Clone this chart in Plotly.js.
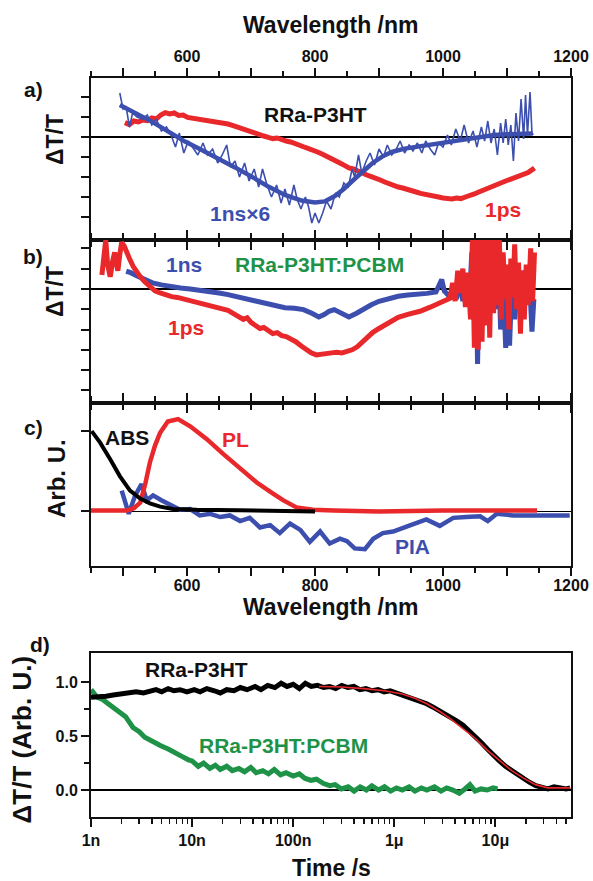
<!DOCTYPE html>
<html><head><meta charset="utf-8">
<script src="https://cdn.plot.ly/plotly-3.0.1.min.js"></script>
<style>body{margin:0;background:#fff}#g{width:593px;height:881px}</style>
</head><body><div id="g"></div>
<script>
// ---- panel a (RRa-P3HT) ----
const aRedX = [503,510,517,524,531,538,545,552,559,566,573,580,587,594,601,608,615,622,629,636,643,650,657,664,671,678,685,692,699,706,713,720,727,734,741,748,755,762,769,776,783,790,797,804,811,818,825,832,839,846,853,860,867,874,881,888,895,902,909,916,923,930,937,944,951,958,965,972,979,986,993,1000,1007,1014,1021,1028,1035,1042,1049,1056,1063,1070,1077,1084,1091,1098,1105,1112,1119,1126,1133,1140,1143];
const aRedY = [0.72,0.62,0.8,0.75,0.85,0.82,0.95,0.9,1.1,1.22,1.15,1.2,1.08,1.1,0.98,0.95,0.9,0.88,0.85,0.82,0.8,0.75,0.72,0.65,0.58,0.5,0.42,0.33,0.25,0.15,0.1,0.05,-0.02,-0.08,-0.05,-0.15,-0.2,-0.25,-0.35,-0.42,-0.5,-0.58,-0.7,-0.75,-0.85,-0.95,-1.1,-1.2,-1.3,-1.42,-1.55,-1.6,-1.72,-1.8,-1.9,-1.98,-2.1,-2.15,-2.25,-2.35,-2.4,-2.5,-2.55,-2.6,-2.7,-2.75,-2.82,-2.88,-2.92,-2.98,-3.0,-3.05,-3.08,-3.1,-3.05,-3.08,-3.0,-2.95,-2.85,-2.75,-2.65,-2.55,-2.45,-2.35,-2.28,-2.2,-2.12,-2.05,-1.95,-1.88,-1.78,-1.62,-1.55];
const aBlueNoisyX = [495,500,505,510,515,522,530,538,545,552,560,568,575,582,588,595,602,610,617,625,632,640,648,655,662,668,675,682,690,697,705,712,718,725,732,740,747,753,760,767,772,778,785,790,795,800,806,812,818,825,832,838,845,852,858,862,868,873,880,886,893,900,907,913,920,927,933,940,947,953,960,967,973,980,987,993,1000,1007,1013,1020,1027,1033,1040,1047,1053,1060,1065,1070,1075,1080,1085,1090,1094,1098,1102,1106,1110,1114,1118,1122,1126,1129,1132,1136,1139,1141];
const aBlueNoisyY = [2.2,1.4,1.5,0.5,1.2,1.0,0.9,1.1,0.6,0.9,0.3,0.5,0.1,-0.5,0.2,-0.8,-0.2,-0.6,-0.9,-0.3,-0.9,-0.6,-1.3,-0.9,-0.4,-1.5,-1.2,-2.0,-1.3,-2.2,-1.6,-2.5,-1.6,-2.4,-3.0,-2.4,-3.3,-2.6,-3.4,-2.4,-3.1,-3.6,-3.0,-3.5,-4.3,-3.8,-4.3,-3.8,-3.2,-3.6,-2.8,-3.0,-2.3,-2.5,-1.6,-2.0,-0.9,-1.8,-1.2,-0.8,-1.4,-0.6,-1.0,-0.4,-0.9,-0.6,-0.2,-0.8,-0.4,-0.7,-0.3,-0.8,-0.2,-0.6,-0.9,-0.3,-0.5,0.1,-0.4,0.4,-0.2,0.6,-0.3,0.3,-0.5,0.5,-0.2,0.8,-0.3,0.4,-0.9,0.7,-0.3,0.9,-0.4,0.6,-1.2,1.2,-0.2,1.9,-0.1,2.1,0.1,2.25,0.2,0.1];
const aBlueSmoothX = [495,519,545,571,597,623,649,675,701,727,753,779,800,815,831,845,860,875,890,905,920,940,960,980,1000,1020,1040,1060,1080,1100,1120,1140];
const aBlueSmoothY = [1.6,1.22,0.77,0.27,-0.23,-0.65,-1.07,-1.52,-1.98,-2.48,-2.9,-3.18,-3.27,-3.22,-2.95,-2.6,-2.15,-1.7,-1.3,-0.98,-0.75,-0.58,-0.48,-0.4,-0.3,-0.18,-0.06,0.03,0.1,0.14,0.16,0.17];

// ---- panel b (RRa-P3HT:PCBM) ----
const bBlueX = [505,512,523,535,546,560,576,590,605,620,635,650,664,680,694,708,723,738,753,768,782,795,806,815,822,830,840,853,865,877,888,900,915,930,945,959,975,989,995,998,1002,1008,1011,1016,1021,1026,1031,1036,1041,1045,1048,1051,1054,1057,1060,1063,1067,1070,1074,1078,1082,1086,1090,1094,1098,1101,1104,1108,1112,1116,1120,1125,1130,1135,1139,1142];
const bBlueY = [0.87,0.8,0.62,0.45,0.3,0.2,0.1,0.05,0.0,-0.05,-0.11,-0.2,-0.28,-0.4,-0.52,-0.6,-0.69,-0.8,-0.93,-0.95,-1.02,-1.2,-1.38,-1.25,-1.1,-1.02,-1.15,-1.38,-1.2,-0.95,-0.78,-0.61,-0.48,-0.36,-0.3,-0.28,-0.22,-0.15,0.2,0.46,-0.1,-0.35,-0.4,0.2,-0.5,0.4,-0.6,0.7,-0.8,1.8,-1.5,2.2,-3.7,1.5,-2.5,2.0,-1.0,1.0,-0.5,2.0,-1.0,2.5,-2.0,0.5,-2.9,-0.5,-2.8,0.8,-1.5,0.2,-1.0,0.9,-0.6,0.6,-2.1,-0.5];
const bRedX = [467,470,473,476,480,484,487,490,492,495,498,502,506,510,516,521,527,534,542,550,558,566,576,585,595,605,615,625,635,645,655,664,672,680,688,694,700,707,714,720,727,734,741,748,755,762,770,778,786,794,802,810,818,826,834,842,850,858,866,874,882,890,900,915,930,945,964,980,995,1003,1011,1015,1019,1023,1027,1031,1035,1039,1043,1046,1049,1052,1055,1058,1061,1064,1067,1070,1073,1076,1079,1082,1085,1088,1091,1094,1097,1100,1103,1106,1109,1112,1115,1118,1121,1124,1127,1130,1133,1137,1140,1143];
const bRedY = [0.69,1.6,2.4,1.2,0.6,1.4,1.8,1.2,0.9,1.7,2.3,2.1,1.75,1.5,1.1,0.85,0.6,0.35,0.11,-0.1,-0.2,-0.3,-0.38,-0.42,-0.5,-0.55,-0.6,-0.72,-0.8,-0.88,-0.95,-1.05,-1.2,-1.35,-1.5,-1.42,-1.65,-1.8,-1.95,-1.9,-2.05,-2.2,-2.15,-2.3,-2.35,-2.45,-2.6,-2.8,-3.0,-3.15,-3.25,-3.2,-3.15,-3.15,-3.12,-3.15,-3.08,-3.0,-2.85,-2.6,-2.35,-2.15,-1.95,-1.65,-1.4,-1.25,-1.1,-0.9,-0.69,-0.58,-0.46,0.3,-0.6,0.9,-0.2,1.0,-0.9,0.8,-1.5,2.5,-2.9,2.5,-3.0,2.5,-2.6,2.5,-1.8,2.5,-2.4,2.5,-1.2,2.5,-0.8,2.5,-1.5,1.8,-0.5,1.2,-2.0,1.5,-0.4,2.2,-1.0,1.3,-2.2,0.9,-1.5,1.2,-0.8,2.0,-0.6,1.8];

// ---- panel c (ABS, PL, PIA) ----
const cAbsX = [451,464,480,495,511,527,542,558,578,615,680,745,800];
const cAbsY = [1.0,0.86,0.65,0.44,0.26,0.16,0.1,0.06,0.03,0.02,0.015,0.01,0.0];
const cPlX = [450,480,506,517,527,535,542,550,558,570,586,605,631,656,683,709,735,750,771,797,830,900,1000,1100,1147];
const cPlY = [0.01,0.01,0.01,0.04,0.11,0.35,0.61,0.82,0.98,1.12,1.15,1.06,0.9,0.72,0.53,0.36,0.22,0.14,0.05,0.02,0.01,0.0,0.01,0.01,0.01];
const cPiaX = [498,509,519,529,537,547,560,573,589,605,620,636,652,667,683,698,714,730,745,761,777,792,808,823,839,850,862,878,891,906,922,943,964,974,995,1016,1036,1058,1070,1084,1110,1136,1162,1198];
const cPiaY = [0.26,-0.03,0.2,0.34,0.14,0.2,0.14,0.08,0.02,0.03,-0.05,-0.03,-0.07,-0.05,-0.12,-0.08,-0.2,-0.17,-0.27,-0.15,-0.23,-0.38,-0.25,-0.4,-0.34,-0.37,-0.46,-0.47,-0.34,-0.27,-0.25,-0.19,-0.13,-0.1,-0.18,-0.08,-0.07,-0.06,-0.12,-0.03,-0.05,-0.05,-0.06,-0.05];

// ---- panel d (kinetics, time in ns) ----
const dBlackT = [1.0,1.17,1.41,1.66,2.0,2.4,2.8,3.3,3.8,4.4,5.0,5.8,6.6,7.6,8.9,10.5,12,14,16.6,19,22,26,30,35,42,48,56,66,76,87,100,115,132,151,174,200,229,263,302,347,398,457,525,603,692,794,912,1047,1202,1380,1585,1820,2089,2399,2754,3162,3631,4169,4786,5495,6310,7244,8318,9550,10965,12589,14454,16596,19055,21878,25119,28840,33113,38019,43652,50119,54954];
const dBlackV = [0.86,0.86,0.87,0.88,0.89,0.9,0.91,0.9,0.92,0.93,0.91,0.94,0.92,0.93,0.91,0.93,0.91,0.94,0.92,0.9,0.93,0.92,0.95,0.93,0.96,0.93,0.97,0.95,0.99,0.96,0.98,0.94,0.99,0.96,0.97,0.95,0.96,0.94,0.97,0.95,0.96,0.93,0.94,0.92,0.93,0.91,0.92,0.9,0.88,0.86,0.85,0.82,0.8,0.77,0.74,0.71,0.68,0.64,0.6,0.55,0.5,0.44,0.38,0.32,0.27,0.22,0.18,0.14,0.1,0.07,0.04,0.02,0.01,0.03,0.02,0.01,0.02];
const dFitT = [180,300,500,800,1200,1600,2100,2800,3600,4800,6300,8300,11000,14500,19000,25000,33000,43000,55000];
const dFitV = [0.96,0.955,0.94,0.92,0.89,0.85,0.8,0.73,0.66,0.57,0.48,0.37,0.27,0.18,0.11,0.05,0.02,0.02,0.02];
const dGreenT = [1,1.15,1.3,1.5,1.7,1.9,2.2,2.6,3.0,3.4,4.0,4.9,5.8,6.8,8.0,9.2,10,11.5,13,15,17,19,22,25,29,33,38,43,50,57,65,75,85,100,115,130,150,170,200,230,260,300,350,400,460,530,600,700,800,920,1050,1200,1400,1600,1850,2100,2500,2900,3300,3800,4400,5000,5600,6300,7200,8300,9500,10500];
const dGreenV = [0.93,0.86,0.84,0.8,0.76,0.73,0.68,0.58,0.54,0.49,0.45,0.41,0.38,0.35,0.31,0.28,0.27,0.22,0.25,0.2,0.23,0.19,0.22,0.18,0.2,0.17,0.21,0.16,0.18,0.15,0.19,0.14,0.16,0.13,0.15,0.11,0.09,0.1,0.06,0.04,0.05,0.01,0.03,-0.01,0.03,0.0,0.04,0.0,0.03,-0.01,0.02,0.0,0.03,-0.01,0.02,0.0,0.03,-0.01,0.02,0.0,-0.03,0.01,0.05,-0.01,0.01,0.0,0.02,0.01];

// ---- tick labels ----
const wlTickVals = [500,600,700,800,900,1000,1100,1200];
const wlTickText = ['','600','','800','','1000','','1200'];
const tTickVals = [1,10,100,1000,10000];
const tTickText = ['1n','10n','100n','1μ','10μ'];
const dYTickVals = [0,0.5,1.0];
const dYTickText = ['0.0','0.5','1.0'];

const RED='#e8282b', BLUE='#3c4fae', GREEN='#1e9348', BLACK='#000';
const F = 'Liberation Sans, Arial, sans-serif';

function line(x,y,xa,ya,color,w){return {x:x,y:y,xaxis:xa,yaxis:ya,type:'scatter',mode:'lines',line:{color:color,width:w},hoverinfo:'skip'};}

const data = [
  line(aRedX,aRedY,'x','y',RED,5),
  line(aBlueNoisyX,aBlueNoisyY,'x','y',BLUE,1.6),
  line(aBlueSmoothX,aBlueSmoothY,'x','y',BLUE,4.5),
  line(bBlueX,bBlueY,'x2','y2',BLUE,5),
  line(bRedX,bRedY,'x2','y2',RED,5),
  line(cPiaX,cPiaY,'x3','y3',BLUE,4.5),
  line(cPlX,cPlY,'x3','y3',RED,4.5),
  line(cAbsX,cAbsY,'x3','y3',BLACK,4),
  line(dGreenT,dGreenV,'x4','y4',GREEN,5),
  line(dBlackT,dBlackV,'x4','y4',BLACK,5),
  line(dFitT,dFitV,'x4','y4',RED,1.6)
];

const tickFont = {family:F,size:16,color:'#111',weight:'bold'};
function wlAxis(anchor,side,labels,standoff){
  return {domain:[0,1],range:[450,1200],anchor:anchor,side:side,showticklabels:labels,ticklabelstandoff:standoff,
    tickmode:'array',tickvals:wlTickVals,ticktext:wlTickText,ticks:'outside',ticklen:8,tickwidth:2,tickcolor:'#111',
    minor:{dtick:50,tick0:0,ticks:'outside',ticklen:5,tickwidth:1.5,tickcolor:'#111'},
    showline:true,linewidth:2,linecolor:'#111',mirror:'ticks',showgrid:false,zeroline:false,tickfont:tickFont};
}
function yAxis(dom,range,tv){
  return {domain:dom,range:range,tickmode:'array',tickvals:tv,showticklabels:false,ticks:'outside',ticklen:8,tickwidth:2,tickcolor:'#111',
    showline:true,linewidth:2,linecolor:'#111',mirror:true,showgrid:false,zeroline:true,zerolinecolor:'#000',zerolinewidth:1.6};
}
const layout = {
  width:593,height:881,margin:{l:91,r:22,t:78,b:64},paper_bgcolor:'#fff',plot_bgcolor:'#fff',showlegend:false,
  font:{family:F,color:'#111'},
  xaxis: wlAxis('y','top',true,0),
  xaxis2: wlAxis('y2','bottom',false,0),
  xaxis3: wlAxis('y3','bottom',true,-4),
  yaxis: yAxis([0.7808,1],[-5.15,2.95],[-4,-3,-2,-1,0,1,2]),
  yaxis2: yAxis([0.5602,0.7808],[-5.62,2.41],[-5,-4,-3,-2,-1,0,1,2]),
  yaxis3: yAxis([0.3396,0.5602],[-0.68,1.35],[0,1]),
  xaxis4: {domain:[0,1],anchor:'y4',type:'log',range:[0,4.748],tickmode:'array',tickvals:tTickVals,ticktext:tTickText,
    ticks:'outside',ticklen:8,tickwidth:2,tickcolor:'#111',
    minor:{tickmode:'array',tickvals:[2,3,4,5,6,7,8,9,20,30,40,50,60,70,80,90,200,300,400,500,600,700,800,900,2000,3000,4000,5000,6000,7000,8000,9000,20000,30000,40000,50000],ticks:'outside',ticklen:5,tickwidth:1.5,tickcolor:'#111'},
    showline:true,linewidth:2,linecolor:'#111',mirror:true,showgrid:false,zeroline:false,tickfont:tickFont},
  yaxis4: {domain:[0,0.2219],anchor:'x4',range:[-0.25,1.27],tickmode:'array',tickvals:dYTickVals,ticktext:dYTickText,
    ticks:'outside',ticklen:8,tickwidth:2,tickcolor:'#111',
    minor:{tickmode:'array',tickvals:[0.25,0.75],ticks:'outside',ticklen:5,tickwidth:1.5,tickcolor:'#111'},
    showline:true,linewidth:2,linecolor:'#111',mirror:true,showgrid:false,zeroline:true,zerolinecolor:'#000',zerolinewidth:1.6,tickfont:tickFont},
  annotations: []
};
function ann(text,x,y,xref,yref,size,color,angle){
  return {text:text,x:x,y:y,xref:xref,yref:yref,showarrow:false,xanchor:'center',yanchor:'middle',
    textangle:angle||0,font:{family:F,size:size,color:color,weight:'bold'}};
}
layout.annotations.push(
  ann('Wavelength /nm',0.5,1.0717,'paper','paper',23,'#111'),
  ann('Wavelength /nm',0.5,0.2842,'paper','paper',23,'#111'),
  ann('Time /s',0.5,-0.069,'paper','paper',23,'#111'),
  ann('a)',-0.1208,0.9838,'paper','paper',21,'#111'),
  ann('b)',-0.1208,0.7578,'paper','paper',21,'#111'),
  ann('c)',-0.1208,0.5264,'paper','paper',21,'#111'),
  ann('d)',-0.1063,0.2341,'paper','paper',21,'#111'),
  ann('ΔT/T',-0.075,0.9161,'paper','paper',23,'#111',-90),
  ann('ΔT/T',-0.075,0.7104,'paper','paper',23,'#111',-90),
  ann('Arb. U.',-0.073,0.4587,'paper','paper',24,'#111',-90),
  ann('ΔT/T (Arb. U.)',-0.1438,0.105,'paper','paper',26,'#111',-90),
  ann('RRa-P3HT',800,1.15,'x','y',21,'#111'),
  ann('1ns×6',683,-3.85,'x','y',21,BLUE),
  ann('1ps',1094,-3.65,'x','y',21,RED),
  ann('1ns',596,1.2,'x2','y2',21,BLUE),
  ann('RRa-P3HT:PCBM',807,1.2,'x2','y2',21,GREEN),
  ann('1ps',599,-1.92,'x2','y2',21,RED),
  ann('ABS',507,0.92,'x3','y3',21,'#111'),
  ann('PL',676,0.9,'x3','y3',21,RED),
  ann('PIA',953,-0.44,'x3','y3',21,BLUE),
  ann('RRa-P3HT',Math.log10(11),1.12,'x4','y4',21,'#111'),
  ann('RRa-P3HT:PCBM',Math.log10(81),0.41,'x4','y4',21,GREEN)
);
Plotly.newPlot('g',data,layout,{displayModeBar:false,staticPlot:true});
</script></body></html>
